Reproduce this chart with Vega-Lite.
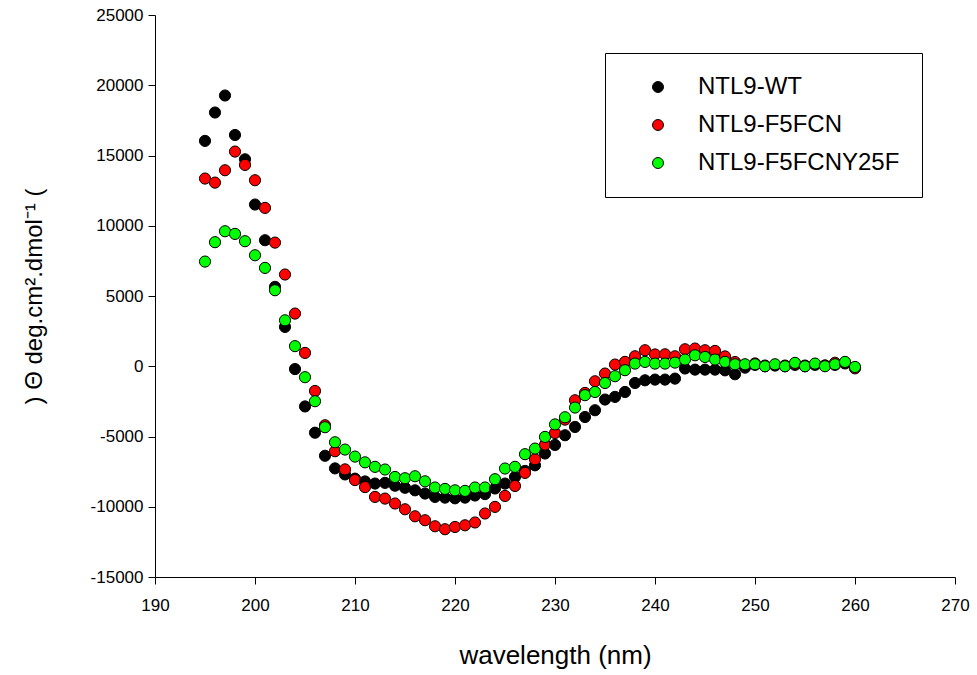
{
  "$schema": "https://vega.github.io/schema/vega-lite/v6.json",
  "width": 800,
  "height": 562,
  "autosize": "none",
  "padding": {"left": 155, "top": 15, "right": 22, "bottom": 98},
  "background": "white",
  "config": {
    "view": {"stroke": null},
    "font": "Liberation Sans",
    "axis": {
      "grid": false,
      "domainColor": "black",
      "tickColor": "black",
      "labelColor": "black",
      "titleColor": "black",
      "labelFont": "Liberation Sans",
      "titleFont": "Liberation Sans",
      "labelFontSize": 17,
      "titleFontSize": 24,
      "titleFontWeight": "normal",
      "tickSize": 7,
      "labelFlush": false,
      "labelOverlap": false
    }
  },
  "data": {
    "values": [
      {"wavelength":195,"theta":16040,"sample":"NTL9-WT"},
      {"wavelength":196,"theta":18060,"sample":"NTL9-WT"},
      {"wavelength":197,"theta":19270,"sample":"NTL9-WT"},
      {"wavelength":198,"theta":16460,"sample":"NTL9-WT"},
      {"wavelength":199,"theta":14730,"sample":"NTL9-WT"},
      {"wavelength":200,"theta":11510,"sample":"NTL9-WT"},
      {"wavelength":201,"theta":8970,"sample":"NTL9-WT"},
      {"wavelength":202,"theta":5650,"sample":"NTL9-WT"},
      {"wavelength":203,"theta":2800,"sample":"NTL9-WT"},
      {"wavelength":204,"theta":-200,"sample":"NTL9-WT"},
      {"wavelength":205,"theta":-2860,"sample":"NTL9-WT"},
      {"wavelength":206,"theta":-4730,"sample":"NTL9-WT"},
      {"wavelength":207,"theta":-6370,"sample":"NTL9-WT"},
      {"wavelength":208,"theta":-7270,"sample":"NTL9-WT"},
      {"wavelength":209,"theta":-7700,"sample":"NTL9-WT"},
      {"wavelength":210,"theta":-8000,"sample":"NTL9-WT"},
      {"wavelength":211,"theta":-8200,"sample":"NTL9-WT"},
      {"wavelength":212,"theta":-8350,"sample":"NTL9-WT"},
      {"wavelength":213,"theta":-8300,"sample":"NTL9-WT"},
      {"wavelength":214,"theta":-8500,"sample":"NTL9-WT"},
      {"wavelength":215,"theta":-8650,"sample":"NTL9-WT"},
      {"wavelength":216,"theta":-8830,"sample":"NTL9-WT"},
      {"wavelength":217,"theta":-9060,"sample":"NTL9-WT"},
      {"wavelength":218,"theta":-9300,"sample":"NTL9-WT"},
      {"wavelength":219,"theta":-9350,"sample":"NTL9-WT"},
      {"wavelength":220,"theta":-9400,"sample":"NTL9-WT"},
      {"wavelength":221,"theta":-9350,"sample":"NTL9-WT"},
      {"wavelength":222,"theta":-9200,"sample":"NTL9-WT"},
      {"wavelength":223,"theta":-9100,"sample":"NTL9-WT"},
      {"wavelength":224,"theta":-8700,"sample":"NTL9-WT"},
      {"wavelength":225,"theta":-8350,"sample":"NTL9-WT"},
      {"wavelength":226,"theta":-7880,"sample":"NTL9-WT"},
      {"wavelength":227,"theta":-7450,"sample":"NTL9-WT"},
      {"wavelength":228,"theta":-7050,"sample":"NTL9-WT"},
      {"wavelength":229,"theta":-6210,"sample":"NTL9-WT"},
      {"wavelength":230,"theta":-5600,"sample":"NTL9-WT"},
      {"wavelength":231,"theta":-4910,"sample":"NTL9-WT"},
      {"wavelength":232,"theta":-4320,"sample":"NTL9-WT"},
      {"wavelength":233,"theta":-3610,"sample":"NTL9-WT"},
      {"wavelength":234,"theta":-3130,"sample":"NTL9-WT"},
      {"wavelength":235,"theta":-2370,"sample":"NTL9-WT"},
      {"wavelength":236,"theta":-2180,"sample":"NTL9-WT"},
      {"wavelength":237,"theta":-1830,"sample":"NTL9-WT"},
      {"wavelength":238,"theta":-1190,"sample":"NTL9-WT"},
      {"wavelength":239,"theta":-1000,"sample":"NTL9-WT"},
      {"wavelength":240,"theta":-950,"sample":"NTL9-WT"},
      {"wavelength":241,"theta":-950,"sample":"NTL9-WT"},
      {"wavelength":242,"theta":-880,"sample":"NTL9-WT"},
      {"wavelength":243,"theta":-160,"sample":"NTL9-WT"},
      {"wavelength":244,"theta":-240,"sample":"NTL9-WT"},
      {"wavelength":245,"theta":-240,"sample":"NTL9-WT"},
      {"wavelength":246,"theta":-240,"sample":"NTL9-WT"},
      {"wavelength":247,"theta":-290,"sample":"NTL9-WT"},
      {"wavelength":248,"theta":-570,"sample":"NTL9-WT"},
      {"wavelength":249,"theta":-100,"sample":"NTL9-WT"},
      {"wavelength":250,"theta":100,"sample":"NTL9-WT"},
      {"wavelength":251,"theta":0,"sample":"NTL9-WT"},
      {"wavelength":252,"theta":50,"sample":"NTL9-WT"},
      {"wavelength":253,"theta":0,"sample":"NTL9-WT"},
      {"wavelength":254,"theta":100,"sample":"NTL9-WT"},
      {"wavelength":255,"theta":0,"sample":"NTL9-WT"},
      {"wavelength":256,"theta":100,"sample":"NTL9-WT"},
      {"wavelength":257,"theta":50,"sample":"NTL9-WT"},
      {"wavelength":258,"theta":100,"sample":"NTL9-WT"},
      {"wavelength":259,"theta":200,"sample":"NTL9-WT"},
      {"wavelength":260,"theta":-100,"sample":"NTL9-WT"},

      {"wavelength":195,"theta":13360,"sample":"NTL9-F5FCN"},
      {"wavelength":196,"theta":13070,"sample":"NTL9-F5FCN"},
      {"wavelength":197,"theta":13950,"sample":"NTL9-F5FCN"},
      {"wavelength":198,"theta":15280,"sample":"NTL9-F5FCN"},
      {"wavelength":199,"theta":14330,"sample":"NTL9-F5FCN"},
      {"wavelength":200,"theta":13240,"sample":"NTL9-F5FCN"},
      {"wavelength":201,"theta":11270,"sample":"NTL9-F5FCN"},
      {"wavelength":202,"theta":8800,"sample":"NTL9-F5FCN"},
      {"wavelength":203,"theta":6530,"sample":"NTL9-F5FCN"},
      {"wavelength":204,"theta":3750,"sample":"NTL9-F5FCN"},
      {"wavelength":205,"theta":950,"sample":"NTL9-F5FCN"},
      {"wavelength":206,"theta":-1760,"sample":"NTL9-F5FCN"},
      {"wavelength":207,"theta":-4200,"sample":"NTL9-F5FCN"},
      {"wavelength":208,"theta":-6050,"sample":"NTL9-F5FCN"},
      {"wavelength":209,"theta":-7340,"sample":"NTL9-F5FCN"},
      {"wavelength":210,"theta":-8100,"sample":"NTL9-F5FCN"},
      {"wavelength":211,"theta":-8600,"sample":"NTL9-F5FCN"},
      {"wavelength":212,"theta":-9300,"sample":"NTL9-F5FCN"},
      {"wavelength":213,"theta":-9420,"sample":"NTL9-F5FCN"},
      {"wavelength":214,"theta":-9770,"sample":"NTL9-F5FCN"},
      {"wavelength":215,"theta":-10180,"sample":"NTL9-F5FCN"},
      {"wavelength":216,"theta":-10680,"sample":"NTL9-F5FCN"},
      {"wavelength":217,"theta":-10960,"sample":"NTL9-F5FCN"},
      {"wavelength":218,"theta":-11390,"sample":"NTL9-F5FCN"},
      {"wavelength":219,"theta":-11600,"sample":"NTL9-F5FCN"},
      {"wavelength":220,"theta":-11440,"sample":"NTL9-F5FCN"},
      {"wavelength":221,"theta":-11320,"sample":"NTL9-F5FCN"},
      {"wavelength":222,"theta":-11120,"sample":"NTL9-F5FCN"},
      {"wavelength":223,"theta":-10480,"sample":"NTL9-F5FCN"},
      {"wavelength":224,"theta":-10010,"sample":"NTL9-F5FCN"},
      {"wavelength":225,"theta":-9230,"sample":"NTL9-F5FCN"},
      {"wavelength":226,"theta":-8520,"sample":"NTL9-F5FCN"},
      {"wavelength":227,"theta":-7590,"sample":"NTL9-F5FCN"},
      {"wavelength":228,"theta":-6620,"sample":"NTL9-F5FCN"},
      {"wavelength":229,"theta":-5580,"sample":"NTL9-F5FCN"},
      {"wavelength":230,"theta":-4750,"sample":"NTL9-F5FCN"},
      {"wavelength":231,"theta":-3800,"sample":"NTL9-F5FCN"},
      {"wavelength":232,"theta":-2420,"sample":"NTL9-F5FCN"},
      {"wavelength":233,"theta":-1900,"sample":"NTL9-F5FCN"},
      {"wavelength":234,"theta":-1070,"sample":"NTL9-F5FCN"},
      {"wavelength":235,"theta":-520,"sample":"NTL9-F5FCN"},
      {"wavelength":236,"theta":120,"sample":"NTL9-F5FCN"},
      {"wavelength":237,"theta":310,"sample":"NTL9-F5FCN"},
      {"wavelength":238,"theta":710,"sample":"NTL9-F5FCN"},
      {"wavelength":239,"theta":1140,"sample":"NTL9-F5FCN"},
      {"wavelength":240,"theta":840,"sample":"NTL9-F5FCN"},
      {"wavelength":241,"theta":850,"sample":"NTL9-F5FCN"},
      {"wavelength":242,"theta":710,"sample":"NTL9-F5FCN"},
      {"wavelength":243,"theta":1210,"sample":"NTL9-F5FCN"},
      {"wavelength":244,"theta":1260,"sample":"NTL9-F5FCN"},
      {"wavelength":245,"theta":1140,"sample":"NTL9-F5FCN"},
      {"wavelength":246,"theta":1090,"sample":"NTL9-F5FCN"},
      {"wavelength":247,"theta":700,"sample":"NTL9-F5FCN"},
      {"wavelength":248,"theta":300,"sample":"NTL9-F5FCN"},
      {"wavelength":249,"theta":100,"sample":"NTL9-F5FCN"},
      {"wavelength":250,"theta":200,"sample":"NTL9-F5FCN"},
      {"wavelength":251,"theta":50,"sample":"NTL9-F5FCN"},
      {"wavelength":252,"theta":100,"sample":"NTL9-F5FCN"},
      {"wavelength":253,"theta":50,"sample":"NTL9-F5FCN"},
      {"wavelength":254,"theta":150,"sample":"NTL9-F5FCN"},
      {"wavelength":255,"theta":50,"sample":"NTL9-F5FCN"},
      {"wavelength":256,"theta":150,"sample":"NTL9-F5FCN"},
      {"wavelength":257,"theta":50,"sample":"NTL9-F5FCN"},
      {"wavelength":258,"theta":250,"sample":"NTL9-F5FCN"},
      {"wavelength":259,"theta":250,"sample":"NTL9-F5FCN"},
      {"wavelength":260,"theta":-150,"sample":"NTL9-F5FCN"},

      {"wavelength":195,"theta":7450,"sample":"NTL9-F5FCNY25F"},
      {"wavelength":196,"theta":8830,"sample":"NTL9-F5FCNY25F"},
      {"wavelength":197,"theta":9610,"sample":"NTL9-F5FCNY25F"},
      {"wavelength":198,"theta":9420,"sample":"NTL9-F5FCNY25F"},
      {"wavelength":199,"theta":8900,"sample":"NTL9-F5FCNY25F"},
      {"wavelength":200,"theta":7900,"sample":"NTL9-F5FCNY25F"},
      {"wavelength":201,"theta":7000,"sample":"NTL9-F5FCNY25F"},
      {"wavelength":202,"theta":5410,"sample":"NTL9-F5FCNY25F"},
      {"wavelength":203,"theta":3270,"sample":"NTL9-F5FCNY25F"},
      {"wavelength":204,"theta":1430,"sample":"NTL9-F5FCNY25F"},
      {"wavelength":205,"theta":-780,"sample":"NTL9-F5FCNY25F"},
      {"wavelength":206,"theta":-2490,"sample":"NTL9-F5FCNY25F"},
      {"wavelength":207,"theta":-4340,"sample":"NTL9-F5FCNY25F"},
      {"wavelength":208,"theta":-5410,"sample":"NTL9-F5FCNY25F"},
      {"wavelength":209,"theta":-5930,"sample":"NTL9-F5FCNY25F"},
      {"wavelength":210,"theta":-6430,"sample":"NTL9-F5FCNY25F"},
      {"wavelength":211,"theta":-6840,"sample":"NTL9-F5FCNY25F"},
      {"wavelength":212,"theta":-7160,"sample":"NTL9-F5FCNY25F"},
      {"wavelength":213,"theta":-7350,"sample":"NTL9-F5FCNY25F"},
      {"wavelength":214,"theta":-7880,"sample":"NTL9-F5FCNY25F"},
      {"wavelength":215,"theta":-7970,"sample":"NTL9-F5FCNY25F"},
      {"wavelength":216,"theta":-7830,"sample":"NTL9-F5FCNY25F"},
      {"wavelength":217,"theta":-8190,"sample":"NTL9-F5FCNY25F"},
      {"wavelength":218,"theta":-8630,"sample":"NTL9-F5FCNY25F"},
      {"wavelength":219,"theta":-8730,"sample":"NTL9-F5FCNY25F"},
      {"wavelength":220,"theta":-8830,"sample":"NTL9-F5FCNY25F"},
      {"wavelength":221,"theta":-8870,"sample":"NTL9-F5FCNY25F"},
      {"wavelength":222,"theta":-8630,"sample":"NTL9-F5FCNY25F"},
      {"wavelength":223,"theta":-8630,"sample":"NTL9-F5FCNY25F"},
      {"wavelength":224,"theta":-8040,"sample":"NTL9-F5FCNY25F"},
      {"wavelength":225,"theta":-7280,"sample":"NTL9-F5FCNY25F"},
      {"wavelength":226,"theta":-7160,"sample":"NTL9-F5FCNY25F"},
      {"wavelength":227,"theta":-6260,"sample":"NTL9-F5FCNY25F"},
      {"wavelength":228,"theta":-5860,"sample":"NTL9-F5FCNY25F"},
      {"wavelength":229,"theta":-5030,"sample":"NTL9-F5FCNY25F"},
      {"wavelength":230,"theta":-4140,"sample":"NTL9-F5FCNY25F"},
      {"wavelength":231,"theta":-3630,"sample":"NTL9-F5FCNY25F"},
      {"wavelength":232,"theta":-2940,"sample":"NTL9-F5FCNY25F"},
      {"wavelength":233,"theta":-2060,"sample":"NTL9-F5FCNY25F"},
      {"wavelength":234,"theta":-1830,"sample":"NTL9-F5FCNY25F"},
      {"wavelength":235,"theta":-1190,"sample":"NTL9-F5FCNY25F"},
      {"wavelength":236,"theta":-710,"sample":"NTL9-F5FCNY25F"},
      {"wavelength":237,"theta":-280,"sample":"NTL9-F5FCNY25F"},
      {"wavelength":238,"theta":190,"sample":"NTL9-F5FCNY25F"},
      {"wavelength":239,"theta":310,"sample":"NTL9-F5FCNY25F"},
      {"wavelength":240,"theta":190,"sample":"NTL9-F5FCNY25F"},
      {"wavelength":241,"theta":190,"sample":"NTL9-F5FCNY25F"},
      {"wavelength":242,"theta":260,"sample":"NTL9-F5FCNY25F"},
      {"wavelength":243,"theta":480,"sample":"NTL9-F5FCNY25F"},
      {"wavelength":244,"theta":780,"sample":"NTL9-F5FCNY25F"},
      {"wavelength":245,"theta":660,"sample":"NTL9-F5FCNY25F"},
      {"wavelength":246,"theta":480,"sample":"NTL9-F5FCNY25F"},
      {"wavelength":247,"theta":310,"sample":"NTL9-F5FCNY25F"},
      {"wavelength":248,"theta":140,"sample":"NTL9-F5FCNY25F"},
      {"wavelength":249,"theta":140,"sample":"NTL9-F5FCNY25F"},
      {"wavelength":250,"theta":140,"sample":"NTL9-F5FCNY25F"},
      {"wavelength":251,"theta":0,"sample":"NTL9-F5FCNY25F"},
      {"wavelength":252,"theta":140,"sample":"NTL9-F5FCNY25F"},
      {"wavelength":253,"theta":0,"sample":"NTL9-F5FCNY25F"},
      {"wavelength":254,"theta":240,"sample":"NTL9-F5FCNY25F"},
      {"wavelength":255,"theta":0,"sample":"NTL9-F5FCNY25F"},
      {"wavelength":256,"theta":190,"sample":"NTL9-F5FCNY25F"},
      {"wavelength":257,"theta":0,"sample":"NTL9-F5FCNY25F"},
      {"wavelength":258,"theta":140,"sample":"NTL9-F5FCNY25F"},
      {"wavelength":259,"theta":310,"sample":"NTL9-F5FCNY25F"},
      {"wavelength":260,"theta":-50,"sample":"NTL9-F5FCNY25F"}
    ]
  },
  "mark": {"type": "point", "shape": "circle", "filled": true, "size": 125, "stroke": "black", "strokeWidth": 1, "opacity": 1},
  "encoding": {
    "x": {
      "field": "wavelength", "type": "quantitative",
      "scale": {"domain": [190, 270], "nice": false, "zero": false},
      "axis": {"values": [190, 200, 210, 220, 230, 240, 250, 260, 270], "title": "wavelength (nm)", "labelPadding": 13, "titlePadding": 29, "titleFontSize": 26, "labelExpr": "'' + datum.value"}
    },
    "y": {
      "field": "theta", "type": "quantitative",
      "scale": {"domain": [-15000, 25000], "nice": false, "zero": false},
      "axis": {"values": [-15000, -10000, -5000, 0, 5000, 10000, 15000, 20000, 25000], "title": ") Θ     deg.cm².dmol⁻¹ (", "labelExpr": "'' + datum.value", "labelPadding": 5, "titlePadding": 44}
    },
    "fill": {
      "field": "sample", "type": "nominal",
      "scale": {"domain": ["NTL9-WT", "NTL9-F5FCN", "NTL9-F5FCNY25F"], "range": ["#000000", "#ff0000", "#00ff00"]},
      "legend": {
        "title": null,
        "orient": "none",
        "legendX": 450,
        "legendY": 38,
        "strokeColor": "black",
        "fillColor": "white",
        "padding": 22,
        "symbolOffset": 19,
        "labelOffset": 28,
        "rowPadding": 14,
        "symbolType": "circle",
        "symbolSize": 120,
        "symbolStrokeColor": "black",
        "symbolStrokeWidth": 1,
        "labelFont": "Liberation Sans",
        "labelFontSize": 24,
        "labelColor": "black",
        "labelLimit": 400
      }
    },
    "order": {"field": "wavelength", "type": "quantitative"}
  }
}
